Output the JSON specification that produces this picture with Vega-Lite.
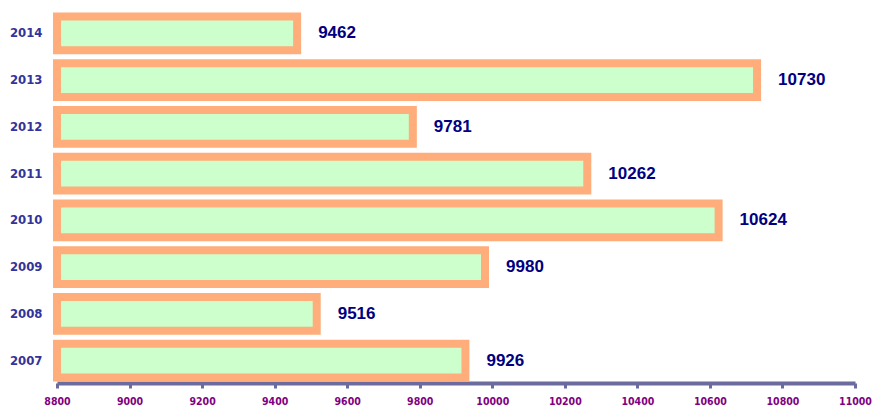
{
  "$schema": "https://vega.github.io/schema/vega-lite/v6.json",
  "autosize": "none",
  "width": 798,
  "height": 372,
  "padding": {"left": 57, "top": 11, "right": 17, "bottom": 26},
  "background": "white",
  "config": {"view": {"stroke": null}},
  "data": {"values": [
    {"year": "2014", "value": 9462},
    {"year": "2013", "value": 10730},
    {"year": "2012", "value": 9781},
    {"year": "2011", "value": 10262},
    {"year": "2010", "value": 10624},
    {"year": "2009", "value": 9980},
    {"year": "2008", "value": 9516},
    {"year": "2007", "value": 9926}
  ]},
  "encoding": {
    "y": {"field": "year", "type": "nominal", "sort": "descending",
      "scale": {"paddingInner": 0.28, "paddingOuter": 0.12},
      "axis": {"title": null, "domain": false, "ticks": false, "labelPadding": 15,
        "labelFont": "'DejaVu Sans Condensed', 'Liberation Sans', sans-serif", "labelFontWeight": "bold", "labelFontSize": 13, "labelColor": "#333399"}},
    "x": {"field": "value", "type": "quantitative",
      "scale": {"domain": [8800, 11000], "zero": false, "nice": false},
      "axis": {"title": null, "grid": false, "values": [8800, 9000, 9200, 9400, 9600, 9800, 10000, 10200, 10400, 10600, 10800, 11000],
        "format": "d", "domainColor": "#6B6B9E", "domainWidth": 4, "tickColor": "#6B6B9E", "tickWidth": 3, "tickSize": 5,
        "labelFont": "'DejaVu Sans Condensed', 'Liberation Sans', sans-serif", "labelFontWeight": "bold", "labelFontSize": 10.5, "labelColor": "#800080", "labelPadding": 8, "labelFlush": false}}
  },
  "layer": [
    {"mark": {"type": "bar", "fill": "#CCFFCC", "stroke": "#FFAD7A", "strokeWidth": 8},
     "encoding": {"x2": {"datum": 8800}}},
    {"mark": {"type": "text", "align": "left", "dx": 21, "font": "Liberation Sans", "fontWeight": "bold", "fontSize": 17, "color": "#000080"},
     "encoding": {"text": {"field": "value", "type": "quantitative", "format": "d"}}}
  ]
}
